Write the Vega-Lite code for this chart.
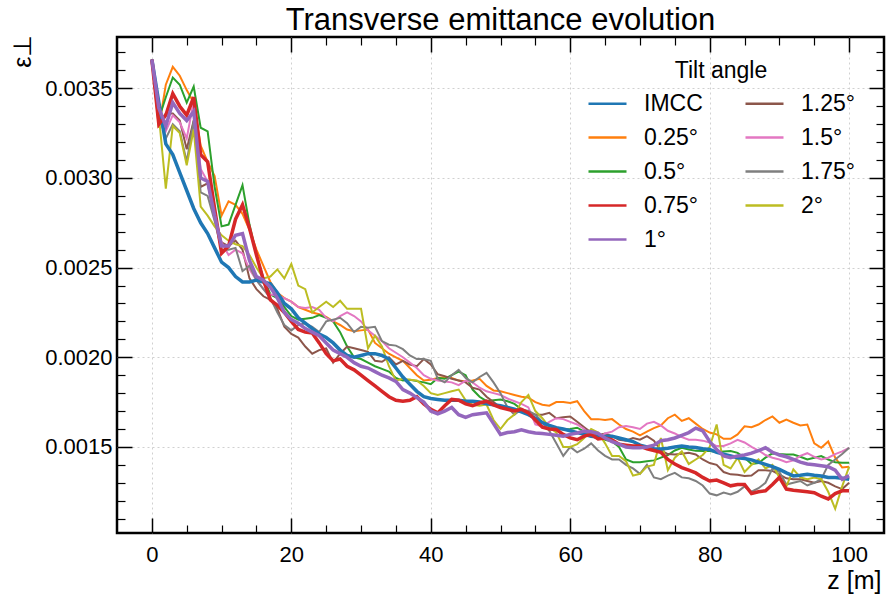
{
"$schema": "https://vega.github.io/schema/vega-lite/v6.json",
"width": 767, "height": 496,
"autosize": {"type": "none"},
"padding": {"left": 117, "top": 37, "right": 2, "bottom": 63},
"title": {"text": "Transverse emittance evolution", "fontSize": 31, "fontWeight": "normal", "font": "Liberation Sans", "color": "black", "anchor": "middle", "baseline": "alphabetic", "offset": 7, "frame": "group", "dy": 34},
"config": {"font": "Liberation Sans", "view": {"stroke": "black", "strokeWidth": 2.5}},
"data": {"values": [
{"z":0,"I":0.00366,"a":0.00366,"b":0.00366,"c":0.00366,"d":0.00366,"e":0.00366,"f":0.00366,"g":0.00366,"h":0.00366},
{"z":1,"I":0.00342,"a":0.00328,"b":0.00333,"c":0.0033,"d":0.00339,"e":0.0033,"f":0.00335,"g":0.00335,"h":0.00335},
{"z":2,"I":0.00319,"a":0.00352,"b":0.00345,"c":0.00335,"d":0.00329,"e":0.00336,"f":0.00326,"g":0.00322,"h":0.00294},
{"z":3,"I":0.00313,"a":0.00362,"b":0.00356,"c":0.00347,"d":0.00342,"e":0.00336,"f":0.00335,"g":0.0033,"h":0.00329},
{"z":4,"I":0.00303,"a":0.00357,"b":0.00352,"c":0.0034,"d":0.00336,"e":0.00332,"f":0.00331,"g":0.00326,"h":0.00325},
{"z":5,"I":0.00293,"a":0.00349,"b":0.00342,"c":0.00335,"d":0.00332,"e":0.00316,"f":0.00322,"g":0.00309,"h":0.00307},
{"z":6,"I":0.00283,"a":0.00342,"b":0.00351,"c":0.00345,"d":0.00337,"e":0.00332,"f":0.00343,"g":0.00332,"h":0.00327},
{"z":7,"I":0.00275,"a":0.00318,"b":0.00328,"c":0.00313,"d":0.003,"e":0.00295,"f":0.00305,"g":0.00292,"h":0.00284},
{"z":8,"I":0.00269,"a":0.00309,"b":0.00326,"c":0.00309,"d":0.00298,"e":0.00297,"f":0.00298,"g":0.0029,"h":0.00279},
{"z":9,"I":0.00261,"a":0.00301,"b":0.00295,"c":0.00283,"d":0.00279,"e":0.00278,"f":0.0028,"g":0.00276,"h":0.00273},
{"z":10,"I":0.00253,"a":0.00279,"b":0.00273,"c":0.00258,"d":0.00262,"e":0.00264,"f":0.00264,"g":0.0026,"h":0.00268},
{"z":11,"I":0.0025,"a":0.00287,"b":0.00274,"c":0.00262,"d":0.00262,"e":0.00262,"f":0.00257,"g":0.0026,"h":0.00265},
{"z":12,"I":0.00245,"a":0.00285,"b":0.00285,"c":0.00277,"d":0.00268,"e":0.00265,"f":0.0026,"g":0.00261,"h":0.00263},
{"z":13,"I":0.00242,"a":0.0028,"b":0.00296,"c":0.00285,"d":0.00269,"e":0.0026,"f":0.00258,"g":0.00248,"h":0.00262},
{"z":14,"I":0.00242,"a":0.00271,"b":0.00274,"c":0.00272,"d":0.00254,"e":0.00244,"f":0.00249,"g":0.00251,"h":0.00257},
{"z":15,"I":0.00243,"a":0.0026,"b":0.00257,"c":0.00257,"d":0.00245,"e":0.00238,"f":0.00243,"g":0.00243,"h":0.0025},
{"z":16,"I":0.00242,"a":0.00251,"b":0.00244,"c":0.00243,"d":0.00243,"e":0.00234,"f":0.00238,"g":0.00238,"h":0.00244},
{"z":17,"I":0.00241,"a":0.00242,"b":0.00235,"c":0.00232,"d":0.00239,"e":0.00232,"f":0.00235,"g":0.00233,"h":0.00245},
{"z":18,"I":0.00236,"a":0.00236,"b":0.00233,"c":0.00229,"d":0.00233,"e":0.00227,"f":0.002345,"g":0.00225,"h":0.00249},
{"z":19,"I":0.0023,"a":0.00233,"b":0.00228,"c":0.00225,"d":0.00225,"e":0.00217,"f":0.00233,"g":0.00218,"h":0.00244},
{"z":20,"I":0.00227,"a":0.00231,"b":0.00223,"c":0.0022,"d":0.00221,"e":0.00213,"f":0.00231,"g":0.00215,"h":0.00252},
{"z":21,"I":0.00222,"a":0.00228,"b":0.00221,"c":0.002155,"d":0.00219,"e":0.00211,"f":0.00228,"g":0.00218,"h":0.0024},
{"z":22,"I":0.00219,"a":0.002265,"b":0.002215,"c":0.00214,"d":0.00216,"e":0.00206,"f":0.002275,"g":0.00219,"h":0.00238},
{"z":23,"I":0.00216,"a":0.00225,"b":0.00222,"c":0.002135,"d":0.00214,"e":0.00202,"f":0.00228,"g":0.00217,"h":0.00225},
{"z":24,"I":0.00213,"a":0.00224,"b":0.002235,"c":0.00208,"d":0.00212,"e":0.00204,"f":0.002265,"g":0.00214,"h":0.00228},
{"z":25,"I":0.00211,"a":0.002225,"b":0.00222,"c":0.00202,"d":0.00208,"e":0.00205,"f":0.00222,"g":0.0022,"h":0.00231},
{"z":26,"I":0.00208,"a":0.0022,"b":0.0022,"c":0.00198,"d":0.00204,"e":0.00197,"f":0.0022,"g":0.00221,"h":0.00228},
{"z":27,"I":0.00204,"a":0.00218,"b":0.00214,"c":0.00199,"d":0.00202,"e":0.00202,"f":0.00223,"g":0.00222,"h":0.002315},
{"z":28,"I":0.00201,"a":0.002155,"b":0.00206,"c":0.00195,"d":0.002,"e":0.00206,"f":0.00225,"g":0.00219,"h":0.00227},
{"z":29,"I":0.002,"a":0.002145,"b":0.002,"c":0.00193,"d":0.00197,"e":0.00205,"f":0.00223,"g":0.00214,"h":0.00227},
{"z":30,"I":0.00201,"a":0.00215,"b":0.00199,"c":0.0019,"d":0.00195,"e":0.00204,"f":0.0022,"g":0.00217,"h":0.00227},
{"z":31,"I":0.00202,"a":0.002155,"b":0.00197,"c":0.00187,"d":0.00194,"e":0.00203,"f":0.00215,"g":0.002165,"h":0.00205},
{"z":32,"I":0.00202,"a":0.00208,"b":0.00195,"c":0.00184,"d":0.00192,"e":0.00198,"f":0.00212,"g":0.00217,"h":0.00212},
{"z":33,"I":0.00201,"a":0.00205,"b":0.001935,"c":0.00181,"d":0.0019,"e":0.001975,"f":0.00209,"g":0.00209,"h":0.00206},
{"z":34,"I":0.00199,"a":0.00202,"b":0.00192,"c":0.00178,"d":0.001885,"e":0.002,"f":0.00205,"g":0.00207,"h":0.00195},
{"z":35,"I":0.00194,"a":0.002,"b":0.001885,"c":0.00176,"d":0.001865,"e":0.00196,"f":0.002025,"g":0.002065,"h":0.00187},
{"z":36,"I":0.00189,"a":0.00198,"b":0.00187,"c":0.001755,"d":0.00182,"e":0.00198,"f":0.002,"g":0.002045,"h":0.00188},
{"z":37,"I":0.00185,"a":0.00194,"b":0.001875,"c":0.00176,"d":0.0018,"e":0.00196,"f":0.00197,"g":0.00201,"h":0.001875},
{"z":38,"I":0.00181,"a":0.0019,"b":0.001867,"c":0.00178,"d":0.001775,"e":0.00195,"f":0.00194,"g":0.00199,"h":0.00187},
{"z":39,"I":0.00178,"a":0.00187,"b":0.00186,"c":0.00174,"d":0.00175,"e":0.00199,"f":0.0019,"g":0.00199,"h":0.00184},
{"z":40,"I":0.00177,"a":0.001875,"b":0.00185,"c":0.00171,"d":0.0017,"e":0.00196,"f":0.00188,"g":0.00198,"h":0.0018},
{"z":41,"I":0.001765,"a":0.001885,"b":0.001885,"c":0.00169,"d":0.001685,"e":0.001905,"f":0.00187,"g":0.00188,"h":0.00179},
{"z":42,"I":0.00176,"a":0.00189,"b":0.00188,"c":0.00173,"d":0.0017,"e":0.001895,"f":0.001865,"g":0.00186,"h":0.0018},
{"z":43,"I":0.00176,"a":0.001885,"b":0.0019,"c":0.001765,"d":0.00172,"e":0.00188,"f":0.00186,"g":0.0019,"h":0.00181},
{"z":44,"I":0.00176,"a":0.00187,"b":0.00192,"c":0.00176,"d":0.00168,"e":0.00187,"f":0.001845,"g":0.00193,"h":0.00182},
{"z":45,"I":0.001755,"a":0.001865,"b":0.0019,"c":0.00174,"d":0.001665,"e":0.00186,"f":0.00187,"g":0.001885,"h":0.00176},
{"z":46,"I":0.001755,"a":0.00187,"b":0.00182,"c":0.00173,"d":0.00168,"e":0.00183,"f":0.00186,"g":0.00186,"h":0.001735},
{"z":47,"I":0.00175,"a":0.00188,"b":0.00178,"c":0.001745,"d":0.001685,"e":0.00182,"f":0.00183,"g":0.00189,"h":0.00173},
{"z":48,"I":0.00174,"a":0.00184,"b":0.001755,"c":0.001755,"d":0.00169,"e":0.00178,"f":0.00181,"g":0.001913,"h":0.001736},
{"z":49,"I":0.001735,"a":0.001815,"b":0.00176,"c":0.001735,"d":0.00163,"e":0.00175,"f":0.0018,"g":0.00186,"h":0.00165},
{"z":50,"I":0.00173,"a":0.00181,"b":0.001764,"c":0.00172,"d":0.00157,"e":0.00172,"f":0.00179,"g":0.0018,"h":0.0016},
{"z":51,"I":0.00172,"a":0.0018,"b":0.001755,"c":0.00171,"d":0.00158,"e":0.00171,"f":0.00177,"g":0.00172,"h":0.00165},
{"z":52,"I":0.00171,"a":0.00179,"b":0.00174,"c":0.0017,"d":0.001585,"e":0.0017,"f":0.001755,"g":0.00168,"h":0.00168},
{"z":53,"I":0.001695,"a":0.00178,"b":0.00171,"c":0.00171,"d":0.001595,"e":0.001695,"f":0.00174,"g":0.00171,"h":0.00175},
{"z":54,"I":0.00168,"a":0.001775,"b":0.00168,"c":0.00169,"d":0.001585,"e":0.00169,"f":0.00172,"g":0.0017,"h":0.00179},
{"z":55,"I":0.00166,"a":0.00175,"b":0.001655,"c":0.00165,"d":0.001578,"e":0.00168,"f":0.001625,"g":0.00168,"h":0.0017},
{"z":56,"I":0.001635,"a":0.001735,"b":0.001635,"c":0.00161,"d":0.001575,"e":0.00168,"f":0.001615,"g":0.00164,"h":0.00166},
{"z":57,"I":0.00162,"a":0.00173,"b":0.001615,"c":0.0016,"d":0.00157,"e":0.00169,"f":0.00164,"g":0.00159,"h":0.00161},
{"z":58,"I":0.001607,"a":0.00175,"b":0.001605,"c":0.001597,"d":0.001565,"e":0.00166,"f":0.00166,"g":0.00152,"h":0.00158},
{"z":59,"I":0.0016,"a":0.00175,"b":0.001597,"c":0.00157,"d":0.00156,"e":0.001665,"f":0.001655,"g":0.00145,"h":0.0015},
{"z":60,"I":0.00159,"a":0.001745,"b":0.0016,"c":0.00155,"d":0.00157,"e":0.00167,"f":0.00164,"g":0.0015,"h":0.0015},
{"z":61,"I":0.00158,"a":0.001755,"b":0.001607,"c":0.00154,"d":0.001578,"e":0.00164,"f":0.001625,"g":0.00147,"h":0.001515},
{"z":62,"I":0.00157,"a":0.0017,"b":0.001585,"c":0.00156,"d":0.001588,"e":0.00161,"f":0.0016,"g":0.00149,"h":0.00155},
{"z":63,"I":0.00156,"a":0.001655,"b":0.00157,"c":0.00157,"d":0.001585,"e":0.00158,"f":0.00156,"g":0.00152,"h":0.0016},
{"z":64,"I":0.001555,"a":0.001655,"b":0.001555,"c":0.001545,"d":0.001575,"e":0.001565,"f":0.001545,"g":0.00148,"h":0.00158},
{"z":65,"I":0.001558,"a":0.00165,"b":0.00154,"c":0.00155,"d":0.00155,"e":0.001575,"f":0.001575,"g":0.00145,"h":0.00152},
{"z":66,"I":0.00156,"a":0.001655,"b":0.00153,"c":0.00154,"d":0.00153,"e":0.00156,"f":0.001585,"g":0.00143,"h":0.00145},
{"z":67,"I":0.00155,"a":0.001625,"b":0.0015,"c":0.001515,"d":0.001515,"e":0.00154,"f":0.00161,"g":0.00143,"h":0.00145},
{"z":68,"I":0.00154,"a":0.0016,"b":0.00143,"c":0.00151,"d":0.0015,"e":0.001535,"f":0.001616,"g":0.0014,"h":0.00142},
{"z":69,"I":0.00153,"a":0.001585,"b":0.001415,"c":0.001505,"d":0.001495,"e":0.00155,"f":0.00161,"g":0.00138,"h":0.00134},
{"z":70,"I":0.00151,"a":0.001565,"b":0.001415,"c":0.001505,"d":0.001495,"e":0.00154,"f":0.0016,"g":0.00135,"h":0.00135},
{"z":71,"I":0.0015,"a":0.001585,"b":0.00142,"c":0.00149,"d":0.0015,"e":0.00156,"f":0.00163,"g":0.0014,"h":0.00139},
{"z":72,"I":0.00149,"a":0.001605,"b":0.001425,"c":0.00148,"d":0.00151,"e":0.001535,"f":0.00164,"g":0.00133,"h":0.0014},
{"z":73,"I":0.001488,"a":0.00162,"b":0.00144,"c":0.00147,"d":0.001535,"e":0.00148,"f":0.00162,"g":0.00132,"h":0.00155},
{"z":74,"I":0.001493,"a":0.00166,"b":0.001455,"c":0.00143,"d":0.00154,"e":0.00146,"f":0.00159,"g":0.00134,"h":0.00137},
{"z":75,"I":0.0015,"a":0.00168,"b":0.00148,"c":0.001405,"d":0.00155,"e":0.001458,"f":0.001575,"g":0.001355,"h":0.00144},
{"z":76,"I":0.001505,"a":0.001645,"b":0.001495,"c":0.001385,"d":0.001565,"e":0.001462,"f":0.001555,"g":0.00133,"h":0.001475},
{"z":77,"I":0.0015,"a":0.00166,"b":0.001486,"c":0.00137,"d":0.00158,"e":0.001467,"f":0.00154,"g":0.001325,"h":0.001405},
{"z":78,"I":0.001497,"a":0.00163,"b":0.001478,"c":0.001355,"d":0.001605,"e":0.001458,"f":0.00154,"g":0.00131,"h":0.00143},
{"z":79,"I":0.00149,"a":0.0016,"b":0.001477,"c":0.00133,"d":0.00159,"e":0.00143,"f":0.001535,"g":0.001285,"h":0.001455},
{"z":80,"I":0.001486,"a":0.00158,"b":0.001477,"c":0.00131,"d":0.00153,"e":0.00141,"f":0.001525,"g":0.00124,"h":0.0015},
{"z":81,"I":0.00147,"a":0.00157,"b":0.001472,"c":0.001315,"d":0.001485,"e":0.0014,"f":0.001505,"g":0.00123,"h":0.001625},
{"z":82,"I":0.00146,"a":0.001545,"b":0.001475,"c":0.0013,"d":0.00145,"e":0.00136,"f":0.001505,"g":0.001245,"h":0.0014},
{"z":83,"I":0.00145,"a":0.001545,"b":0.001477,"c":0.001283,"d":0.00144,"e":0.001347,"f":0.00152,"g":0.001235,"h":0.00138},
{"z":84,"I":0.00144,"a":0.00157,"b":0.001467,"c":0.00129,"d":0.00145,"e":0.001345,"f":0.00154,"g":0.00125,"h":0.00144},
{"z":85,"I":0.001435,"a":0.001615,"b":0.00144,"c":0.00129,"d":0.001455,"e":0.001338,"f":0.001525,"g":0.00128,"h":0.00136},
{"z":86,"I":0.001428,"a":0.00161,"b":0.001405,"c":0.00124,"d":0.001465,"e":0.00134,"f":0.0015,"g":0.00125,"h":0.0014},
{"z":87,"I":0.001415,"a":0.001625,"b":0.00141,"c":0.00125,"d":0.00148,"e":0.00137,"f":0.00148,"g":0.00127,"h":0.00143},
{"z":88,"I":0.001403,"a":0.00165,"b":0.00144,"c":0.001255,"d":0.001495,"e":0.00137,"f":0.001455,"g":0.0013,"h":0.00138},
{"z":89,"I":0.00139,"a":0.00167,"b":0.001464,"c":0.00129,"d":0.00147,"e":0.001366,"f":0.00144,"g":0.00138,"h":0.0014},
{"z":90,"I":0.001375,"a":0.001635,"b":0.00146,"c":0.00133,"d":0.001455,"e":0.001345,"f":0.00143,"g":0.00136,"h":0.00133},
{"z":91,"I":0.001355,"a":0.001653,"b":0.001458,"c":0.001265,"d":0.001445,"e":0.001325,"f":0.001415,"g":0.00129,"h":0.00128},
{"z":92,"I":0.001338,"a":0.001635,"b":0.001458,"c":0.001258,"d":0.00143,"e":0.00132,"f":0.001425,"g":0.0013,"h":0.001375},
{"z":93,"I":0.001342,"a":0.00162,"b":0.001445,"c":0.001254,"d":0.001415,"e":0.00132,"f":0.00145,"g":0.00131,"h":0.00133},
{"z":94,"I":0.001347,"a":0.001625,"b":0.00143,"c":0.00125,"d":0.001405,"e":0.00131,"f":0.001465,"g":0.001285,"h":0.00132},
{"z":95,"I":0.001342,"a":0.00152,"b":0.00144,"c":0.001245,"d":0.0014,"e":0.0013,"f":0.001445,"g":0.0013,"h":0.00133},
{"z":96,"I":0.001338,"a":0.001495,"b":0.001449,"c":0.001225,"d":0.001395,"e":0.00131,"f":0.00143,"g":0.00132,"h":0.00132},
{"z":97,"I":0.00133,"a":0.00153,"b":0.00143,"c":0.00121,"d":0.00139,"e":0.0013,"f":0.00144,"g":0.0014,"h":0.00125},
{"z":98,"I":0.00133,"a":0.00144,"b":0.001415,"c":0.00124,"d":0.00137,"e":0.00128,"f":0.00146,"g":0.00143,"h":0.001155},
{"z":99,"I":0.001325,"a":0.001385,"b":0.001412,"c":0.001255,"d":0.00132,"e":0.001265,"f":0.001475,"g":0.00146,"h":0.00128},
{"z":100,"I":0.00132,"a":0.00139,"b":0.001412,"c":0.001255,"d":0.00134,"e":0.0013,"f":0.001495,"g":0.001495,"h":0.00139}
]},
"resolve": {"axis": {"x": "independent", "y": "independent"}},
"layer": [
{
"transform": [
{"fold": ["I","a","b","c","d","e","f","g","h"], "as": ["k","v"]},
{"lookup": "k", "from": {"data": {"values": [{"k":"I","s":"IMCC"},{"k":"a","s":"0.25°"},{"k":"b","s":"0.5°"},{"k":"c","s":"0.75°"},{"k":"d","s":"1°"},{"k":"e","s":"1.25°"},{"k":"f","s":"1.5°"},{"k":"g","s":"1.75°"},{"k":"h","s":"2°"}]}, "key": "k", "fields": ["s"]}},
{"filter": {"field": "k", "oneOf": ["a","b","e","f","g","h"]}}
],
"mark": {"type": "line", "strokeWidth": 2},
"encoding": {
"x": {"field": "z", "type": "quantitative", "scale": {"domain": [-5, 105], "nice": false, "zero": false},
 "axis": {"orient": "bottom", "values": [0,20,40,60,80,100], "tickSize": -15, "tickWidth": 1.5, "tickColor": "black", "labelFontSize": 22, "labelColor": "black", "labelFont": "Liberation Sans", "labelPadding": 26, "labelFlush": false, "labelOverlap": false, "domain": false, "grid": true, "gridColor": "#d0d0d0", "gridDash": [2,3], "gridWidth": 1, "title": "z [m]", "titleFont": "Liberation Sans", "titleFontSize": 25, "titleFontWeight": "normal", "titleColor": "black", "titleX": 764, "titleY": 55, "titleAlign": "right", "titleBaseline": "alphabetic", "titleAngle": 0}},
"y": {"field": "v", "type": "quantitative", "scale": {"domain": [0.00102, 0.003786], "nice": false, "zero": false},
 "axis": {"orient": "left", "values": [0.0015,0.002,0.0025,0.003,0.0035], "format": ".4f", "tickSize": -15, "tickWidth": 1.5, "tickColor": "black", "labelFontSize": 22, "labelColor": "black", "labelFont": "Liberation Sans", "labelPadding": 20, "labelFlush": false, "labelOverlap": false, "domain": false, "grid": true, "gridColor": "#d0d0d0", "gridDash": [2,3], "gridWidth": 1, "title": "ε⊥", "titleFont": "Liberation Sans", "titleFontSize": 25, "titleFontWeight": "normal", "titleColor": "black", "titleX": -87, "titleY": -3, "titleAlign": "right", "titleBaseline": "alphabetic", "titleAngle": 270}},
"color": {"field": "s", "type": "nominal",
 "scale": {"domain": ["IMCC","0.25°","0.5°","0.75°","1°","1.25°","1.5°","1.75°","2°"], "range": ["#1f77b4","#ff7f0e","#2ca02c","#d62728","#9467bd","#8c564b","#e377c2","#7f7f7f","#bcbd22"]},
 "legend": {"title": "Tilt angle", "orient": "none", "legendX": 470, "legendY": 23, "columns": 2, "direction": "vertical", "titleFont": "Liberation Sans", "titleFontSize": 23, "titleFontWeight": "normal", "titleColor": "black", "titleAnchor": "middle", "titlePadding": 0, "labelFont": "Liberation Sans", "labelFontSize": 23, "labelColor": "black", "labelOffset": 16, "symbolType": "stroke", "symbolSize": 1444, "symbolStrokeWidth": 2.5, "rowPadding": 1, "columnPadding": 37, "padding": 0}}
}
},
{
"transform": [
{"fold": ["I","a","b","c","d","e","f","g","h"], "as": ["k","v"]},
{"lookup": "k", "from": {"data": {"values": [{"k":"I","s":"IMCC"},{"k":"a","s":"0.25°"},{"k":"b","s":"0.5°"},{"k":"c","s":"0.75°"},{"k":"d","s":"1°"},{"k":"e","s":"1.25°"},{"k":"f","s":"1.5°"},{"k":"g","s":"1.75°"},{"k":"h","s":"2°"}]}, "key": "k", "fields": ["s"]}},
{"filter": {"field": "k", "oneOf": ["I","c","d"]}}
],
"mark": {"type": "line", "strokeWidth": 3.5},
"encoding": {
"x": {"field": "z", "type": "quantitative", "scale": {"domain": [-5, 105], "nice": false, "zero": false}, "axis": null},
"y": {"field": "v", "type": "quantitative", "scale": {"domain": [0.00102, 0.003786], "nice": false, "zero": false}, "axis": null},
"color": {"field": "s", "type": "nominal",
 "scale": {"domain": ["IMCC","0.25°","0.5°","0.75°","1°","1.25°","1.5°","1.75°","2°"], "range": ["#1f77b4","#ff7f0e","#2ca02c","#d62728","#9467bd","#8c564b","#e377c2","#7f7f7f","#bcbd22"]},
 "legend": {"title": "Tilt angle", "orient": "none", "legendX": 470, "legendY": 23, "columns": 2, "direction": "vertical", "titleFont": "Liberation Sans", "titleFontSize": 23, "titleFontWeight": "normal", "titleColor": "black", "titleAnchor": "middle", "titlePadding": 0, "labelFont": "Liberation Sans", "labelFontSize": 23, "labelColor": "black", "labelOffset": 16, "symbolType": "stroke", "symbolSize": 1444, "symbolStrokeWidth": 2.5, "rowPadding": 1, "columnPadding": 37, "padding": 0}}
}
},
{
"data": {"values": [{"z": 0, "v": 0.002}]},
"mark": {"type": "point", "opacity": 0},
"encoding": {
"x": {"field": "z", "type": "quantitative", "scale": {"domain": [-5, 105], "nice": false, "zero": false},
 "axis": {"orient": "bottom", "values": [5,10,15,25,30,35,45,50,55,65,70,75,85,90,95], "tickSize": -8, "tickWidth": 1.2, "tickColor": "black", "labels": false, "domain": false, "grid": false, "title": null, "minExtent": 0, "maxExtent": 0}},
"y": {"field": "v", "type": "quantitative", "scale": {"domain": [0.00102, 0.003786], "nice": false, "zero": false},
 "axis": {"orient": "left", "values": [0.0011,0.0012,0.0013,0.0014,0.0016,0.0017,0.0018,0.0019,0.0021,0.0022,0.0023,0.0024,0.0026,0.0027,0.0028,0.0029,0.0031,0.0032,0.0033,0.0034,0.0036,0.0037], "tickSize": -8, "tickWidth": 1.2, "tickColor": "black", "labels": false, "domain": false, "grid": false, "title": null, "minExtent": 0, "maxExtent": 0}}
}
},
{
"data": {"values": [{"z": 0, "v": 0.002}]},
"mark": {"type": "point", "opacity": 0},
"encoding": {
"x": {"field": "z", "type": "quantitative", "scale": {"domain": [-5, 105], "nice": false, "zero": false},
 "axis": {"orient": "top", "values": [0,20,40,60,80,100], "tickSize": -15, "tickWidth": 1.5, "tickColor": "black", "labels": false, "domain": false, "grid": false, "title": null, "minExtent": 0, "maxExtent": 0}},
"y": {"field": "v", "type": "quantitative", "scale": {"domain": [0.00102, 0.003786], "nice": false, "zero": false},
 "axis": {"orient": "right", "values": [0.0015,0.002,0.0025,0.003,0.0035], "tickSize": -15, "tickWidth": 1.5, "tickColor": "black", "labels": false, "domain": false, "grid": false, "title": null, "minExtent": 0, "maxExtent": 0}}
}
},
{
"data": {"values": [{"z": 0, "v": 0.002}]},
"mark": {"type": "point", "opacity": 0},
"encoding": {
"x": {"field": "z", "type": "quantitative", "scale": {"domain": [-5, 105], "nice": false, "zero": false},
 "axis": {"orient": "top", "values": [5,10,15,25,30,35,45,50,55,65,70,75,85,90,95], "tickSize": -8, "tickWidth": 1.2, "tickColor": "black", "labels": false, "domain": false, "grid": false, "title": null, "minExtent": 0, "maxExtent": 0}},
"y": {"field": "v", "type": "quantitative", "scale": {"domain": [0.00102, 0.003786], "nice": false, "zero": false},
 "axis": {"orient": "right", "values": [0.0011,0.0012,0.0013,0.0014,0.0016,0.0017,0.0018,0.0019,0.0021,0.0022,0.0023,0.0024,0.0026,0.0027,0.0028,0.0029,0.0031,0.0032,0.0033,0.0034,0.0036,0.0037], "tickSize": -8, "tickWidth": 1.2, "tickColor": "black", "labels": false, "domain": false, "grid": false, "title": null, "minExtent": 0, "maxExtent": 0}}
}
}
]
}
